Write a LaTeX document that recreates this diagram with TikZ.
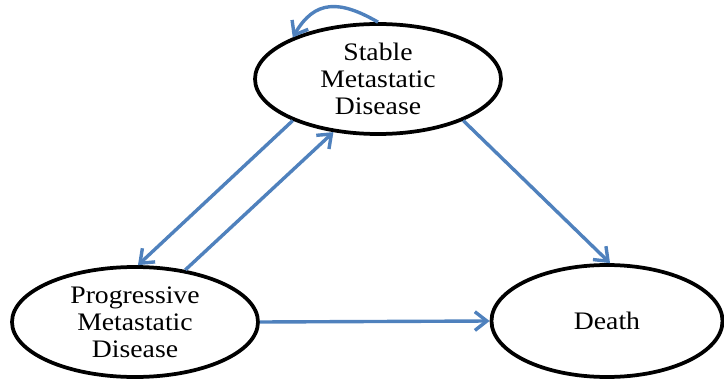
\documentclass[tikz,border=0pt]{standalone}
\usepackage{fontspec}
\setmainfont[FakeStretch=1.1]{Liberation Serif}
\usetikzlibrary{arrows.meta,shapes.geometric}
\definecolor{colline}{RGB}{79,129,189}
\tikzset{
  % STATE BOXES
  frameState/.style={
    ellipse,
    draw = black,
    line width = 3.2pt,
    minimum width = 73.8mm,
    minimum height = 33mm,
    inner sep = -1.5mm,
    align = center,
    font = \fontsize{21.5}{23}\selectfont
  },
  % TRANSITIONS
  lineTrans/.style={
  draw=colline, line width=2.9pt, -{Straight Barb[length=3.6mm,width=5.6mm]}
  }
}

\begin{document}
\begin{tikzpicture}[x=0.3mm,y=0.3mm]
\useasboundingbox (0,0) rectangle (724,380);

% States
\node [frameState] (stable) at (378,301) {Stable \\ Metastatic \\ Disease} ;
\node [frameState] (progressive) at (135,58) {Progressive \\ Metastatic \\ Disease} ;
\node [frameState, minimum width=69.3mm, minimum height=33.6mm] (death) at (607,59) {Death} ;

% Transitions
\path [lineTrans] (stable.90) to[out=150,in=60,looseness=1.3] (stable.154) ;
\path [lineTrans] (stable.206) -- (progressive.87) ;
\path [lineTrans] (progressive.46) -- (stable.230) ;
\path [lineTrans] (stable.334) -- (death.87) ;
\path [lineTrans] (progressive.east) -- (death.west) ;

\end{tikzpicture}
\end{document}
